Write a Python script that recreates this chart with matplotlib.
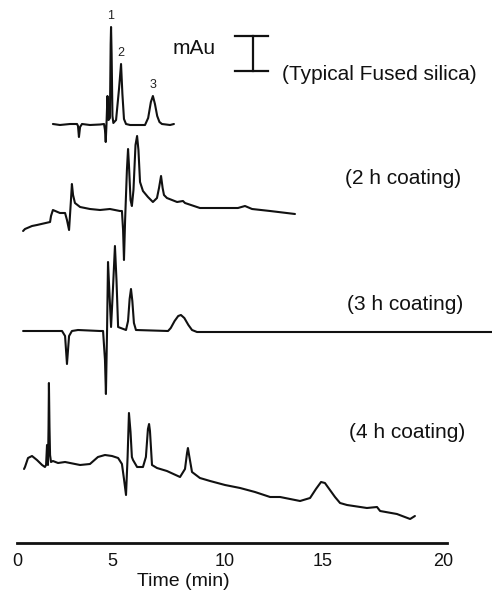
import numpy as np
import matplotlib.pyplot as plt

plt.rcParams['font.family'] = ['Liberation Sans', 'DejaVu Sans']

# electropherograms: time (min) and signal (relative to each trace's start level)
t_fused = [1.89, 2.26, 2.79, 3.16, 3.21, 3.26, 3.32, 3.42, 3.84, 4.37, 4.58, 4.63, 4.67, 4.71, 4.76,
           4.82, 4.89, 4.93, 4.95, 4.98, 5.02, 5.06, 5.18, 5.31, 5.40, 5.46, 5.53, 5.62, 5.80, 6.46,
           6.60, 6.72, 6.81, 6.90, 7.00, 7.10, 7.21, 7.57, 7.74]
s_fused = [0, -1, 0, 0, -2, -13, -3, 0, -1, -0.5, 0, -6, -18, 0, 28,
           4, 6, 80, 97, 70, 8, 1, 4, 35, 60, 30, 5, 0, -1, -1,
           6, 22, 28, 20, 8, 2, 0, -1, 0]

t_2h = [0.32, 0.42, 0.79, 1.05, 1.74, 1.79, 1.89, 2.26, 2.53, 2.63, 2.74, 2.84, 2.89, 2.95, 3.05,
        3.32, 3.84, 4.37, 4.89, 5.35, 5.44, 5.49, 5.53, 5.58, 5.66, 5.71, 5.75, 5.82, 5.88, 5.95,
        6.04, 6.11, 6.17, 6.24, 6.37, 6.59, 6.81, 6.99, 7.08, 7.17, 7.24, 7.30, 7.43, 7.88, 8.14,
        8.23, 8.89, 9.78, 10.66, 11.02, 11.38, 12.30, 13.57]
s_2h = [-1, 1, 4, 5, 8, 14, 20, 17, 17, 10, 0, 30, 46, 35, 27,
        23, 21, 20, 21, 19, 19, 0, -30, 10, 60, 81, 65, 30, 24, 40,
        85, 94, 80, 48, 39, 33, 28, 32, 42, 54, 42, 35, 32, 28, 29,
        27, 22, 22, 22, 24, 21, 19, 16]

t_3h = [0.32, 1.42, 2.37, 2.53, 2.63, 2.74, 2.89, 3.21, 4.37, 4.53, 4.63, 4.68, 4.74, 4.79, 4.86,
        4.95, 5.04, 5.13, 5.20, 5.27, 5.62, 5.71, 5.78, 5.84, 5.90, 5.97, 6.06, 7.48, 7.60, 7.77,
        7.93, 8.05, 8.20, 8.38, 8.54, 8.76, 11.28, 16.13, 22.04]
s_3h = [0, 0, 0, -5, -33, -5, 0, 1, 0, 0, -29, -63, 1, 69, 40,
        4, 41, 85, 50, 4, 1, 10, 32, 42, 30, 8, 1, 0, 3, 10,
        15, 16, 13, 6, 1, -1, -1, -1, -1]

t_4h = [0.37, 0.42, 0.58, 0.79, 1.05, 1.32, 1.47, 1.53, 1.58, 1.63, 1.66, 1.68, 1.71, 1.74, 1.79,
        1.89, 2.16, 2.53, 3.32, 3.84, 4.26, 4.63, 5.00, 5.27, 5.44, 5.53, 5.62, 5.69, 5.75, 5.82,
        5.88, 5.93, 6.11, 6.37, 6.50, 6.59, 6.64, 6.68, 6.77, 6.99, 7.43, 8.01, 8.23, 8.32, 8.36,
        8.41, 8.54, 8.89, 9.34, 10.00, 10.77, 11.53, 12.30, 12.81, 13.83, 14.34, 14.64, 14.90, 15.08,
        15.29, 15.50, 15.71, 16.00, 16.83, 17.25, 17.38, 18.08, 18.63, 18.83]
s_4h = [-2, 0, 9, 11, 7, 2, 0, 2, 22, 2, 40, 84, 40, 12, 5,
        6, 4, 5, 2, 3, 10, 12, 11, 9, 3, -12, -28, 10, 54, 35,
        10, 7, 0, 0, 10, 38, 43, 36, 2, -1, -4, -10, -2, 14, 19,
        12, -5, -11, -14, -18, -21, -25, -30, -30, -34, -31, -22, -15, -16,
        -23, -30, -36, -38, -41, -40, -44, -47, -52, -49]

traces = [(t_fused, s_fused), (t_2h, s_2h), (t_3h, s_3h), (t_4h, s_4h)]
offsets = [419, 313, 212, 76]
trace_labels = ['(Typical Fused silica)', '(2 h coating)', '(3 h coating)', '(4 h coating)']
label_pos = [(12.91, 468), (15.92, 365), (16.0, 238), (16.08, 110)]

peak_ids = ['1', '2', '3']
peak_t = [4.95, 5.40, 6.81]
peak_s = [97, 60, 28]

# the original time axis is not evenly spaced, so map ticks to their drawn positions
tick_min = [-5, 0, 5, 10, 15, 20, 25]
tick_px = [-78, 17, 112, 225, 323, 443, 563]


def fwd(x):
    return np.interp(x, tick_min, tick_px)


def inv(p):
    return np.interp(p, tick_px, tick_min)


fig = plt.figure(figsize=(4.92, 5.96), dpi=100)
ax = fig.add_axes([0, 53 / 596, 1, 543 / 596])
ax.set_xscale('function', functions=(fwd, inv))

for (t, s), off in zip(traces, offsets):
    ax.plot(t, np.array(s) + off, color='#111111', lw=1.5,
            solid_joinstyle='round', solid_capstyle='round')

for txt, (x, y) in zip(trace_labels, label_pos):
    ax.text(x, y, txt, fontsize=15, ha='left', va='center', color='#111111')

for pid, pt, ps in zip(peak_ids, peak_t, peak_s):
    ax.text(pt, ps + offsets[0] + 5, pid, fontsize=9, ha='center', va='bottom', color='#222222')

# scale bar
ax.plot([11.43, 11.43], [472, 507], color='#111111', lw=1.6)
ax.plot([10.51, 12.19], [507, 507], color='#111111', lw=1.6)
ax.plot([10.51, 12.19], [472, 472], color='#111111', lw=1.6)
ax.text(7.70, 494, 'mAu', fontsize=15, ha='left', va='center', color='#111111')

ax.set_xlim(inv(0), inv(492))
ax.set_ylim(0, 543)
for side in ['top', 'left', 'right']:
    ax.spines[side].set_visible(False)
ax.spines['bottom'].set_linewidth(2)
ax.spines['bottom'].set_color('#111111')
ax.spines['bottom'].set_bounds(0, 20.15)
ax.set_yticks([])
ax.set_xticks([0, 5, 10, 15, 20])
ax.set_xticklabels(['0', '5', '10', '15', '20'])
ax.tick_params(axis='x', length=0, pad=7, labelsize=13, labelcolor='#111111')
ax.set_xlabel('Time (min)', fontsize=14, color='#111111')
ax.xaxis.set_label_coords(183 / 492, -0.056)

fig.savefig('out.png', dpi=100)
